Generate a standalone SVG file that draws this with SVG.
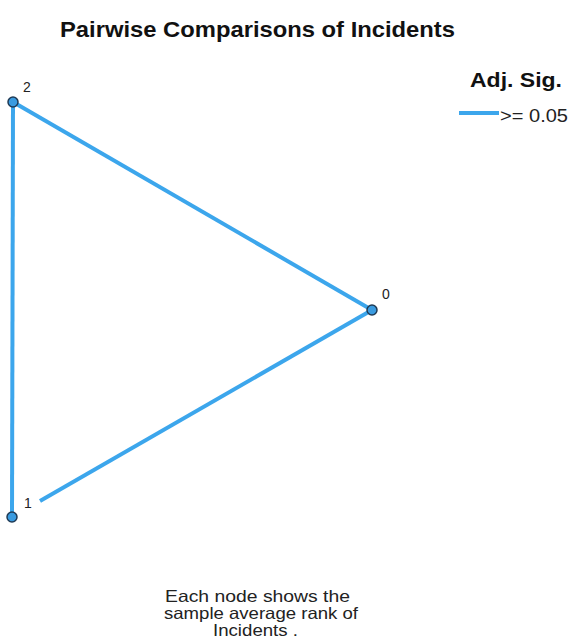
<svg xmlns="http://www.w3.org/2000/svg" width="571" height="639" viewBox="0 0 571 639">
<style>
.edge{stroke:#3ca6ec;stroke-width:4;stroke-linecap:butt;fill:none}
.node{fill:#3a9be0;stroke:#1f3a55;stroke-width:1.5}
.lbl{font-family:"Liberation Sans",Arial,sans-serif;font-size:14px;fill:#222}
.title{font-family:"Liberation Sans",Arial,sans-serif;font-weight:bold;fill:#111}
.leg{font-family:"Liberation Sans",Arial,sans-serif;font-size:19px;fill:#222}
.foot{font-family:"Liberation Sans",Arial,sans-serif;font-size:16.5px;fill:#222}
</style>
<rect width="571" height="639" fill="#fff"/>
<text class="title" x="60" y="37" font-size="22" textLength="395" lengthAdjust="spacingAndGlyphs">Pairwise Comparisons of Incidents</text>
<g id="legend">
<text class="title" x="470" y="87" font-size="21" textLength="92" lengthAdjust="spacingAndGlyphs">Adj. Sig.</text>
<line class="edge" x1="459" y1="113" x2="499" y2="113"/>
<text class="leg" x="500" y="122" textLength="68" lengthAdjust="spacingAndGlyphs">&gt;= 0.05</text>
</g>
<g id="connectors">
<line class="edge" x1="13" y1="102" x2="372" y2="310"/>
<line class="edge" x1="13" y1="102" x2="12" y2="517"/>
<line class="edge" x1="372" y1="310" x2="40" y2="501"/>
</g>
<g id="node-2"><circle class="node" cx="13" cy="102" r="5"/><text class="lbl" x="23" y="92">2</text></g>
<g id="node-0"><circle class="node" cx="372" cy="310" r="5"/><text class="lbl" x="382" y="299">0</text></g>
<g id="node-1"><circle class="node" cx="12" cy="517" r="5"/><text class="lbl" x="24" y="508">1</text></g>
<g id="footnote">
<text class="foot" x="165" y="602" textLength="185" lengthAdjust="spacingAndGlyphs">Each node shows the</text>
<text class="foot" x="164" y="619" textLength="194" lengthAdjust="spacingAndGlyphs">sample average rank of</text>
<text class="foot" x="213" y="636" textLength="85" lengthAdjust="spacingAndGlyphs">Incidents .</text>
</g>
</svg>
